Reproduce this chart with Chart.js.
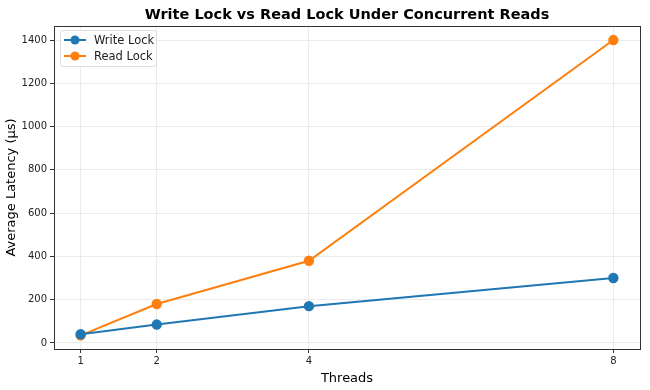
<!DOCTYPE html>
<html>
<head>
<meta charset="utf-8">
<script src="https://cdn.jsdelivr.net/npm/chart.js@4/dist/chart.umd.min.js"></script>
<style>
  html, body { margin: 0; padding: 0; background: #fff; }
  #wrap { width: 650px; height: 390px; }
</style>
</head>
<body>
<div id="wrap"><canvas id="chart"></canvas></div>
<script>
const threads = [1, 2, 4, 8];
const writeLock = [40, 85, 170, 300];
const readLock = [35, 180, 380, 1400];
const yTicks = [0, 200, 400, 600, 800, 1000, 1200, 1400];
const chartTitle = "Write Lock vs Read Lock Under Concurrent Reads";

const font = "'DejaVu Sans', sans-serif";

// title over the plot area, box round it, and a legend inside it, top left
const framePlugin = {
    id: "frame",
    afterDraw(chart) {
        const ctx = chart.ctx;
        const a = chart.chartArea;
        ctx.save();
        ctx.fillStyle = "#000";
        ctx.font = "bold 14.5px " + font;
        ctx.textAlign = "center";
        ctx.textBaseline = "middle";
        ctx.fillText(chartTitle, (a.left + a.right) / 2, 15);
        ctx.textAlign = "left";

        ctx.strokeStyle = "#333";
        ctx.lineWidth = 1;
        ctx.strokeRect(Math.round(a.left) + 0.5, Math.round(a.top) + 0.5, Math.round(a.right - a.left), Math.round(a.bottom - a.top));

        const x0 = a.left + 6, y0 = a.top + 4;
        ctx.fillStyle = "rgba(255,255,255,0.85)";
        ctx.strokeStyle = "#ddd";
        ctx.beginPath();
        ctx.roundRect(x0 + 0.5, y0 + 0.5, 96, 36, 3);
        ctx.fill();
        ctx.stroke();
        ctx.font = "11.5px " + font;
        ctx.textBaseline = "middle";
        chart.data.datasets.forEach((ds, i) => {
            const y = y0 + 10 + i * 16;
            ctx.strokeStyle = ds.borderColor;
            ctx.lineWidth = 2;
            ctx.beginPath();
            ctx.moveTo(x0 + 4, y);
            ctx.lineTo(x0 + 26, y);
            ctx.stroke();
            ctx.fillStyle = ds.borderColor;
            ctx.beginPath();
            ctx.arc(x0 + 15, y, 4.5, 0, Math.PI * 2);
            ctx.fill();
            ctx.fillStyle = "#222";
            ctx.fillText(ds.label, x0 + 34, y + 1);
        });
        ctx.restore();
    }
};

new Chart(document.getElementById("chart"), {
    type: "line",
    data: {
        datasets: [
            {
                label: "Write Lock",
                data: threads.map((t, i) => ({ x: t, y: writeLock[i] })),
                borderColor: "#1f77b4",
                backgroundColor: "#1f77b4",
                borderWidth: 2,
                pointRadius: 4.2,
                pointHoverRadius: 4.2,
                tension: 0
            },
            {
                label: "Read Lock",
                data: threads.map((t, i) => ({ x: t, y: readLock[i] })),
                borderColor: "#ff7f0e",
                backgroundColor: "#ff7f0e",
                borderWidth: 2,
                pointRadius: 4.2,
                pointHoverRadius: 4.2,
                tension: 0
            }
        ]
    },
    options: {
        responsive: true,
        maintainAspectRatio: false,
        animation: false,
        layout: { padding: { left: 0, right: 10, top: 26, bottom: 0 } },
        plugins: {
            legend: { display: false },
            tooltip: { enabled: false },
            title: { display: false }
        },
        scales: {
            x: {
                type: "linear",
                min: 0.65,
                max: 8.35,
                afterBuildTicks: s => { s.ticks = threads.map(v => ({ value: v })); },
                afterFit: s => { s.height = 41; },
                grid: { color: "#ebebeb", tickColor: "#333", tickLength: 4, drawOnChartArea: true },
                border: { display: false },
                ticks: { color: "#222", font: { family: font, size: 10 }, padding: 2, maxRotation: 0, callback: v => String(v) },
                title: { display: true, text: "Threads", color: "#000", font: { family: font, size: 13 }, padding: { top: 2, bottom: 4 } }
            },
            y: {
                min: -28,
                max: 1465,
                afterBuildTicks: s => { s.ticks = yTicks.map(v => ({ value: v })); },
                afterFit: s => { s.width = 54; },
                grid: { color: "#ebebeb", tickColor: "#333", tickLength: 4 },
                border: { display: false },
                ticks: { color: "#222", font: { family: font, size: 10 }, padding: 3, callback: v => String(v) },
                title: { display: true, text: "Average Latency (µs)", color: "#000", font: { family: font, size: 13 }, padding: { top: 4, bottom: 2 } }
            }
        }
    },
    plugins: [framePlugin]
});
</script>
</body>
</html>
